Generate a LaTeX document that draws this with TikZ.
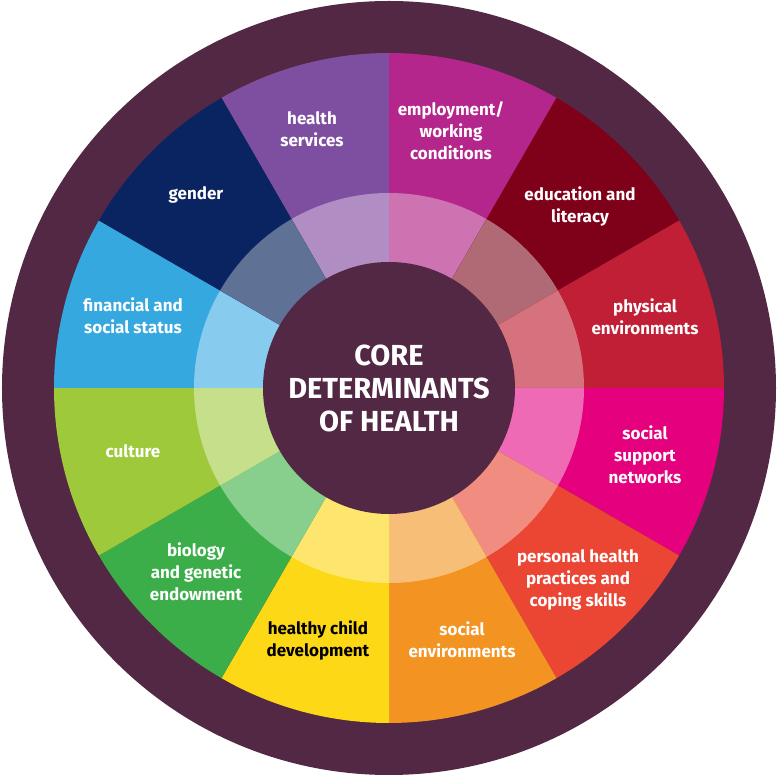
\documentclass[tikz,border=0pt]{standalone}
\usepackage{fontspec}
\setmainfont{Fira Sans}
\definecolor{bgp}{HTML}{532844}
\definecolor{cHS}{HTML}{7E4FA0}\definecolor{lHS}{HTML}{B08EC4}
\definecolor{cEM}{HTML}{B5268C}\definecolor{lEM}{HTML}{CE73B2}
\definecolor{cED}{HTML}{7F0019}\definecolor{lED}{HTML}{B06A75}
\definecolor{cPE}{HTML}{C01F35}\definecolor{lPE}{HTML}{D6727D}
\definecolor{cSS}{HTML}{E5007E}\definecolor{lSS}{HTML}{EE6AB5}
\definecolor{cPH}{HTML}{EB4534}\definecolor{lPH}{HTML}{F18D80}
\definecolor{cSE}{HTML}{F39322}\definecolor{lSE}{HTML}{F7BE78}
\definecolor{cHC}{HTML}{FDD816}\definecolor{lHC}{HTML}{FEE56E}
\definecolor{cBG}{HTML}{3BAE49}\definecolor{lBG}{HTML}{88CE8D}
\definecolor{cCU}{HTML}{9DC93A}\definecolor{lCU}{HTML}{C5DF8B}
\definecolor{cFS}{HTML}{35A8E0}\definecolor{lFS}{HTML}{87CBEE}
\definecolor{cGE}{HTML}{0A2462}\definecolor{lGE}{HTML}{5F7295}
\tikzset{
  lbl/.style={align=center, text=white, font=\fontsize{17}{22}\selectfont\bfseries, inner sep=0pt},
  corelbl/.style={align=center, text=white, font=\fontsize{29}{33}\selectfont\bfseries, inner sep=0pt}
}
\newcommand{\wedgeseg}[4]{%
  \fill[#3] (0pt,0pt) -- (#1:335pt) arc[start angle=#1, end angle=#2, radius=335pt] -- cycle;
  \fill[#4] (0pt,0pt) -- (#1:195pt) arc[start angle=#1, end angle=#2, radius=195pt] -- cycle;
}
\begin{document}
\begin{tikzpicture}[x=1pt,y=1pt]
\useasboundingbox (-389,-387) rectangle (392,388);
\fill[white] (-389,-387) rectangle (392,388);
\fill[bgp] (0,0) circle[radius=387pt];
\wedgeseg{90}{120}{cHS}{lHS}
\wedgeseg{60}{90}{cEM}{lEM}
\wedgeseg{30}{60}{cED}{lED}
\wedgeseg{0}{30}{cPE}{lPE}
\wedgeseg{-30}{0}{cSS}{lSS}
\wedgeseg{-60}{-30}{cPH}{lPH}
\wedgeseg{-90}{-60}{cSE}{lSE}
\wedgeseg{-120}{-90}{cHC}{lHC}
\wedgeseg{-150}{-120}{cBG}{lBG}
\wedgeseg{-180}{-150}{cCU}{lCU}
\wedgeseg{150}{180}{cFS}{lFS}
\wedgeseg{120}{150}{cGE}{lGE}
\fill[bgp] (0,0) circle[radius=126pt];
\node[corelbl] (core) at (0,0) {CORE\\DETERMINANTS\\OF HEALTH};
\node[lbl] (hs) at (-77,259) {health\\services};
\node[lbl] (em) at (62,257) {employment/\\working\\conditions};
\node[lbl] (ed) at (191,182) {education and\\literacy};
\node[lbl] (pe) at (256,71) {physical\\environments};
\node[lbl] (ss) at (256,-67) {social\\support\\networks};
\node[lbl] (ph) at (189,-192) {personal health\\practices and\\coping skills};
\node[lbl] (se) at (73,-252) {social\\environments};
\node[lbl, text=black] (hc) at (-71,-252) {healthy child\\development};
\node[lbl] (bg) at (-193,-184) {biology\\and genetic\\endowment};
\node[lbl] (cu) at (-256,-63) {culture};
\node[lbl] (fs) at (-256,72) {financial and\\social status};
\node[lbl] (ge) at (-193,193) {gender};
\end{tikzpicture}
\end{document}
